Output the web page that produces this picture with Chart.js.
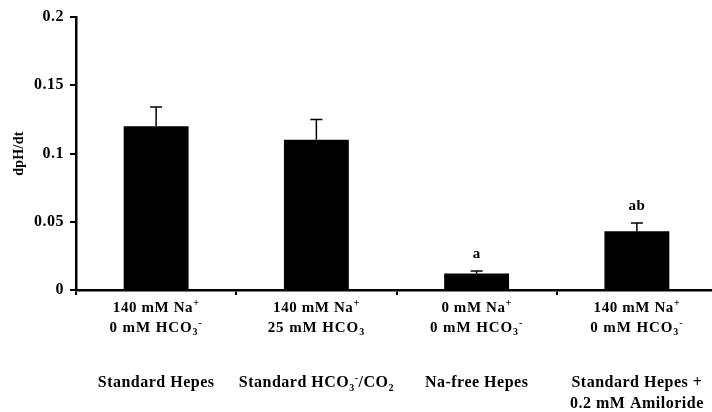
<!DOCTYPE html>
<html>
<head>
<meta charset="utf-8">
<script src="https://cdn.jsdelivr.net/npm/chart.js@4.4.0/dist/chart.umd.min.js"></script>
<style>
  html, body { margin: 0; padding: 0; background: #fff; overflow: hidden; }
  #wrap { width: 730px; height: 412px; }
</style>
</head>
<body>
<div id="wrap"><canvas id="myGraph" width="730" height="412"></canvas></div>
<script>
// data
const categories = ['Standard Hepes', 'Standard HCO3-/CO2', 'Na-free Hepes', 'Standard Hepes + 0.2 mM Amiloride']
const rates = [0.12, 0.11, 0.012, 0.043]
const errors = [0.014, 0.015, 0.002, 0.006]
const significance = ['', '', 'a', 'ab']
const yTicks = [0, 0.05, 0.1, 0.15, 0.2]
const yTitle = 'dpH/dt'

// _x = subscript, ^x = superscript
const naLabels = ['140 mM Na^+', '140 mM Na^+', '0 mM Na^+', '140 mM Na^+']
const hco3Labels = ['0 mM HCO_3^-', '25 mM HCO_3', '0 mM HCO_3^-', '0 mM HCO_3^-']
const nameLabels = [
  ['Standard Hepes'],
  ['Standard HCO_3^-/CO_2'],
  ['Na-free Hepes'],
  ['Standard Hepes +', '0.2 mM Amiloride'],
]

const FONT = '"Liberation Serif", "Times New Roman", serif'

const parseRich = (text) => {
  const parts = []
  for (let i = 0; i < text.length; i++) {
    const c = text[i]
    if ((c === '_' || c === '^') && i + 1 < text.length) {
      parts.push({ t: text[i + 1], mode: c })
      i++
    } else {
      const last = parts[parts.length - 1]
      if (last && last.mode === '') last.t += c
      else parts.push({ t: c, mode: '' })
    }
  }
  return parts
}

const drawRich = (ctx, text, cx, baseline, size, spacing) => {
  const parts = parseRich(text)
  const big = `bold ${size}px ${FONT}`
  const small = `bold ${Math.round(size * 0.65)}px ${FONT}`
  ctx.letterSpacing = spacing + 'px'
  let width = 0
  parts.forEach((p) => {
    ctx.font = p.mode ? small : big
    p.w = ctx.measureText(p.t).width
    width += p.w
  })
  let x = cx - width / 2
  ctx.textAlign = 'left'
  ctx.textBaseline = 'alphabetic'
  parts.forEach((p) => {
    ctx.font = p.mode ? small : big
    let dy = 0
    if (p.mode === '_') dy = size * 0.22
    if (p.mode === '^') dy = -size * 0.38
    ctx.fillText(p.t, x, baseline + dy)
    x += p.w
  })
}

// slightly wider tracking for the y tick labels, like the original figure
const tracking = {
  id: 'tracking',
  beforeDraw(chart) {
    chart.ctx.letterSpacing = '0.5px'
  },
  afterDraw(chart) {
    chart.ctx.letterSpacing = '0px'
  },
}

// error bars, significance letters, axis title and the multi-line category labels
const decorations = {
  id: 'decorations',
  afterDatasetsDraw(chart) {
    const { ctx, chartArea, scales: { x, y } } = chart
    const bars = chart.getDatasetMeta(0).data
    ctx.save()
    ctx.strokeStyle = '#000'
    ctx.fillStyle = '#000'
    ctx.lineWidth = 1.5
    ctx.letterSpacing = '0.5px'
    bars.forEach((bar, i) => {
      const top = y.getPixelForValue(rates[i] + errors[i])
      ctx.beginPath()
      ctx.moveTo(bar.x, bar.y)
      ctx.lineTo(bar.x, top)
      ctx.moveTo(bar.x - 6, top)
      ctx.lineTo(bar.x + 6, top)
      ctx.stroke()
      if (significance[i]) {
        ctx.font = `bold 15px ${FONT}`
        ctx.textAlign = 'center'
        ctx.textBaseline = 'alphabetic'
        ctx.fillText(significance[i], bar.x, top - 13)
      }
    })

    ctx.save()
    ctx.translate(19, (chartArea.top + chartArea.bottom) / 2)
    ctx.rotate(-Math.PI / 2)
    ctx.font = `bold 14px ${FONT}`
    ctx.textAlign = 'center'
    ctx.textBaseline = 'middle'
    ctx.letterSpacing = '0.3px'
    ctx.fillText(yTitle, 0, 0)
    ctx.restore()

    categories.forEach((c, i) => {
      const cx = x.getPixelForValue(i)
      drawRich(ctx, naLabels[i], cx, x.top + 22, 15, 0.6)
      drawRich(ctx, hco3Labels[i], cx, x.top + 42, 15, 0.9)
      nameLabels[i].forEach((line, j) => {
        drawRich(ctx, line, cx, x.top + 97 + j * 21, 16, 0.5)
      })
    })
    ctx.restore()
  },
}

const ctx = document.getElementById('myGraph').getContext('2d')
new Chart(ctx, {
  type: 'bar',
  data: {
    labels: categories,
    datasets: [
      {
        label: yTitle,
        data: rates,
        backgroundColor: '#000',
        borderWidth: 0,
        barPercentage: 0.405,
        categoryPercentage: 1,
      },
    ],
  },
  options: {
    responsive: false,
    animation: false,
    layout: { padding: { top: 17, right: 13, bottom: 0, left: 0 } },
    plugins: {
      legend: { display: false },
      tooltip: { enabled: false },
    },
    scales: {
      x: {
        offset: true,
        grid: {
          offset: true,
          drawOnChartArea: false,
          tickLength: 5,
          color: '#000',
          lineWidth: 2,
        },
        border: { display: true, color: '#000', width: 2.5 },
        ticks: { display: false },
        afterFit: (scale) => {
          scale.height = 122
        },
      },
      y: {
        min: 0,
        max: 0.2,
        afterBuildTicks: (axis) => {
          axis.ticks = yTicks.map((v) => ({ value: v }))
        },
        grid: {
          drawOnChartArea: false,
          tickLength: 6,
          color: '#000',
          lineWidth: 2,
        },
        border: { display: true, color: '#000', width: 2.5 },
        ticks: {
          color: '#000',
          padding: 6,
          font: { family: FONT, size: 16, weight: 'bold' },
          callback: (v) => String(v),
        },
        afterFit: (scale) => {
          scale.width = 76
        },
      },
    },
  },
  plugins: [tracking, decorations],
})
</script>
</body>
</html>
